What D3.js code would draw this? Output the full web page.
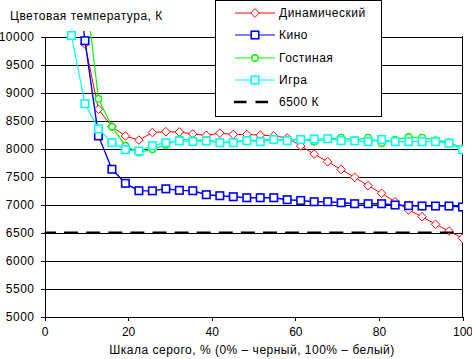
<!DOCTYPE html>
<html><head><meta charset="utf-8">
<script src="https://cdn.jsdelivr.net/npm/d3@7/dist/d3.min.js"></script>
<style>
html,body{margin:0;padding:0;background:#fff;}
svg{display:block;font-family:"Liberation Sans",Arial,sans-serif;}
svg text{letter-spacing:0.5px;}
svg .xax text{letter-spacing:0;}
</style></head>
<body>
<script>
// ---- data ----
const xs = [6.45, 9.68, 12.9, 16.13, 19.35, 22.58, 25.81, 29.03, 32.26, 35.48, 38.71, 41.94, 45.16, 48.39, 51.61, 54.84, 58.06, 61.29, 64.52, 67.74, 70.97, 74.19, 77.42, 80.65, 83.87, 87.1, 90.32, 93.55, 96.77, 100];
const dinamic = [null, 9866, 8700, 8390, 8223, 8150, 8285, 8300, 8295, 8260, 8235, 8275, 8250, 8250, 8240, 8225, 8190, 8045, 7900, 7764, 7625, 7486, 7336, 7200, 7050, 6902, 6782, 6646, 6527, 6396];
const kino = [11870, 9925, 8225, 7630, 7378, 7246, 7244, 7280, 7253, 7246, 7175, 7157, 7139, 7121, 7121, 7121, 7086, 7072, 7050, 7050, 7032, 7014, 7014, 7014, 6991, 6979, 6973, 6973, 6973, 6955];
const gostinaya = [null, 10930, 8890, 8390, 8050, 7930, 7985, 8062, 8165, 8150, 8150, 8120, 8115, 8150, 8140, 8170, 8150, 8170, 8125, 8170, 8195, 8150, 8195, 8095, 8160, 8205, 8195, 8150, 8115, 8000];
const igra = [10018, 8800, 8350, 8105, 7980, 7955, 8050, 8104, 8137, 8125, 8134, 8104, 8104, 8140, 8122, 8158, 8140, 8160, 8170, 8175, 8140, 8137, 8122, 8160, 8122, 8122, 8122, 8122, 8093, 7979];
const refX = [0, 100];
const refY = [6500, 6500];
const yTicks = [5000, 5500, 6000, 6500, 7000, 7500, 8000, 8500, 9000, 9500, 10000];
const xTicks = [0, 20, 40, 60, 80, 100];
const seriesNames = ["Динамический", "Кино", "Гостиная", "Игра", "6500 К"];
const yTitle = "Цветовая температура, К";
const xTitle = "Шкала серого, % (0% – черный, 100% – белый)";

// ---- chart ----
const W = 472, H = 359;
const svg = d3.select("body").append("svg").attr("width", W).attr("height", H);
svg.append("rect").attr("width", W).attr("height", H).attr("fill", "#fff");

const x = d3.scaleLinear().domain([0, 100]).range([44.5, 462.5]);
const y = d3.scaleLinear().domain([5000, 10000]).range([316.5, 36.5]);
const fmt = d3.format("d");

// grid
svg.append("g").attr("transform", "translate(44.5,0)")
  .call(d3.axisLeft(y).tickValues(yTicks.slice(1)).tickSize(-418).tickFormat(""))
  .call(g => g.select(".domain").remove())
  .selectAll("line").attr("stroke", "#000").attr("shape-rendering", "crispEdges");

// right border
svg.append("line").attr("x1", 462.5).attr("x2", 462.5).attr("y1", 36).attr("y2", 317)
  .attr("stroke", "#000").attr("shape-rendering", "crispEdges");

// y axis
const ya = svg.append("g").attr("transform", "translate(44.5,0)")
  .call(d3.axisLeft(y).tickValues(yTicks).tickFormat(fmt).tickSize(4).tickPadding(6).tickSizeOuter(0));
ya.select(".domain").attr("stroke", "#000").attr("shape-rendering", "crispEdges");
ya.selectAll("line").attr("stroke", "#000").attr("shape-rendering", "crispEdges");
ya.selectAll("text").attr("font-size", 12).attr("fill", "#000").attr("font-family", "Liberation Sans, Arial, sans-serif");

// x axis
const xa = svg.append("g").attr("class", "xax").attr("transform", "translate(0,316.5)")
  .call(d3.axisBottom(x).tickValues(xTicks).tickFormat(fmt).tickSize(4).tickPadding(7).tickSizeOuter(0));
xa.select(".domain").attr("stroke", "#000").attr("shape-rendering", "crispEdges");
xa.selectAll("line").attr("stroke", "#000").attr("shape-rendering", "crispEdges");
xa.selectAll("text").attr("font-size", 12).attr("fill", "#000").attr("font-family", "Liberation Sans, Arial, sans-serif");
xa.selectAll("text").filter(d => d === 100).attr("text-anchor", "end").attr("dx", "10");

// titles
svg.append("text").attr("x", 10).attr("y", 20).attr("font-size", 12).text(yTitle);
svg.append("text").attr("x", 252).attr("y", 354).attr("text-anchor", "middle").attr("font-size", 12).text(xTitle);

// clip
svg.append("clipPath").attr("id", "plotclip").append("rect")
  .attr("x", 44).attr("y", 31).attr("width", 419).attr("height", 286);
const plot = svg.append("g").attr("clip-path", "url(#plotclip)");

const line = d3.line().defined(d => d[1] != null).x(d => x(d[0])).y(d => y(d[1]));

const series = [
  {vals: dinamic, color: "#ff0000", w: 1, marker: "diamond"},
  {vals: kino, color: "#0000ff", w: 1.4, marker: "square"},
  {vals: gostinaya, color: "#00ff00", w: 1.2, marker: "circle"},
  {vals: igra, color: "#00ffff", w: 1.2, marker: "square"}
];

function drawMarker(g, type, color, cx, cy) {
  if (type === "square") {
    g.append("rect").attr("x", cx - 3.75).attr("y", cy - 3.75).attr("width", 7.5).attr("height", 7.5)
      .attr("fill", "#fff").attr("stroke", color).attr("stroke-width", 1.6);
  } else if (type === "diamond") {
    g.append("path").attr("d", `M${cx},${cy-4.3}L${cx+4.3},${cy}L${cx},${cy+4.3}L${cx-4.3},${cy}Z`)
      .attr("fill", "#fff").attr("stroke", color).attr("stroke-width", 1);
  } else {
    g.append("circle").attr("cx", cx).attr("cy", cy).attr("r", 3.2)
      .attr("fill", "#fff").attr("stroke", color).attr("stroke-width", 1.4);
  }
}

series.forEach(s => {
  const pts = xs.map((xv, i) => [xv, s.vals[i]]);
  plot.append("path").datum(pts).attr("d", line).attr("fill", "none")
    .attr("stroke", s.color).attr("stroke-width", s.w);
  const mg = plot.append("g");
  pts.filter(p => p[1] != null).forEach(p => drawMarker(mg, s.marker, s.color, x(p[0]), y(p[1])));
});

// 6500 reference line
plot.append("path").datum(refX.map((xv, i) => [xv, refY[i]])).attr("d", line)
  .attr("fill", "none").attr("stroke", "#000").attr("stroke-width", 2.2)
  .attr("stroke-dasharray", "14,8.1").attr("stroke-dashoffset", 2.5);

// legend
const lg = svg.append("g");
lg.append("rect").attr("x", 215.5).attr("y", 0.5).attr("width", 166).attr("height", 116)
  .attr("fill", "#fff").attr("stroke", "#000").attr("shape-rendering", "crispEdges");
const ly = [13, 35, 58, 80, 102];
series.forEach((s, i) => {
  lg.append("line").attr("x1", 235).attr("x2", 275).attr("y1", ly[i]).attr("y2", ly[i])
    .attr("stroke", s.color).attr("stroke-width", 1.2);
  drawMarker(lg, s.marker, s.color, 255, ly[i]);
});
lg.append("line").attr("x1", 234).attr("x2", 270).attr("y1", ly[4]).attr("y2", ly[4])
  .attr("stroke", "#000").attr("stroke-width", 2.5).attr("stroke-dasharray", "12.5,9");
seriesNames.forEach((n, i) => {
  lg.append("text").attr("x", 279).attr("y", ly[i]).attr("dy", "0.35em").attr("font-size", 12).text(n);
});
</script>
</body></html>
